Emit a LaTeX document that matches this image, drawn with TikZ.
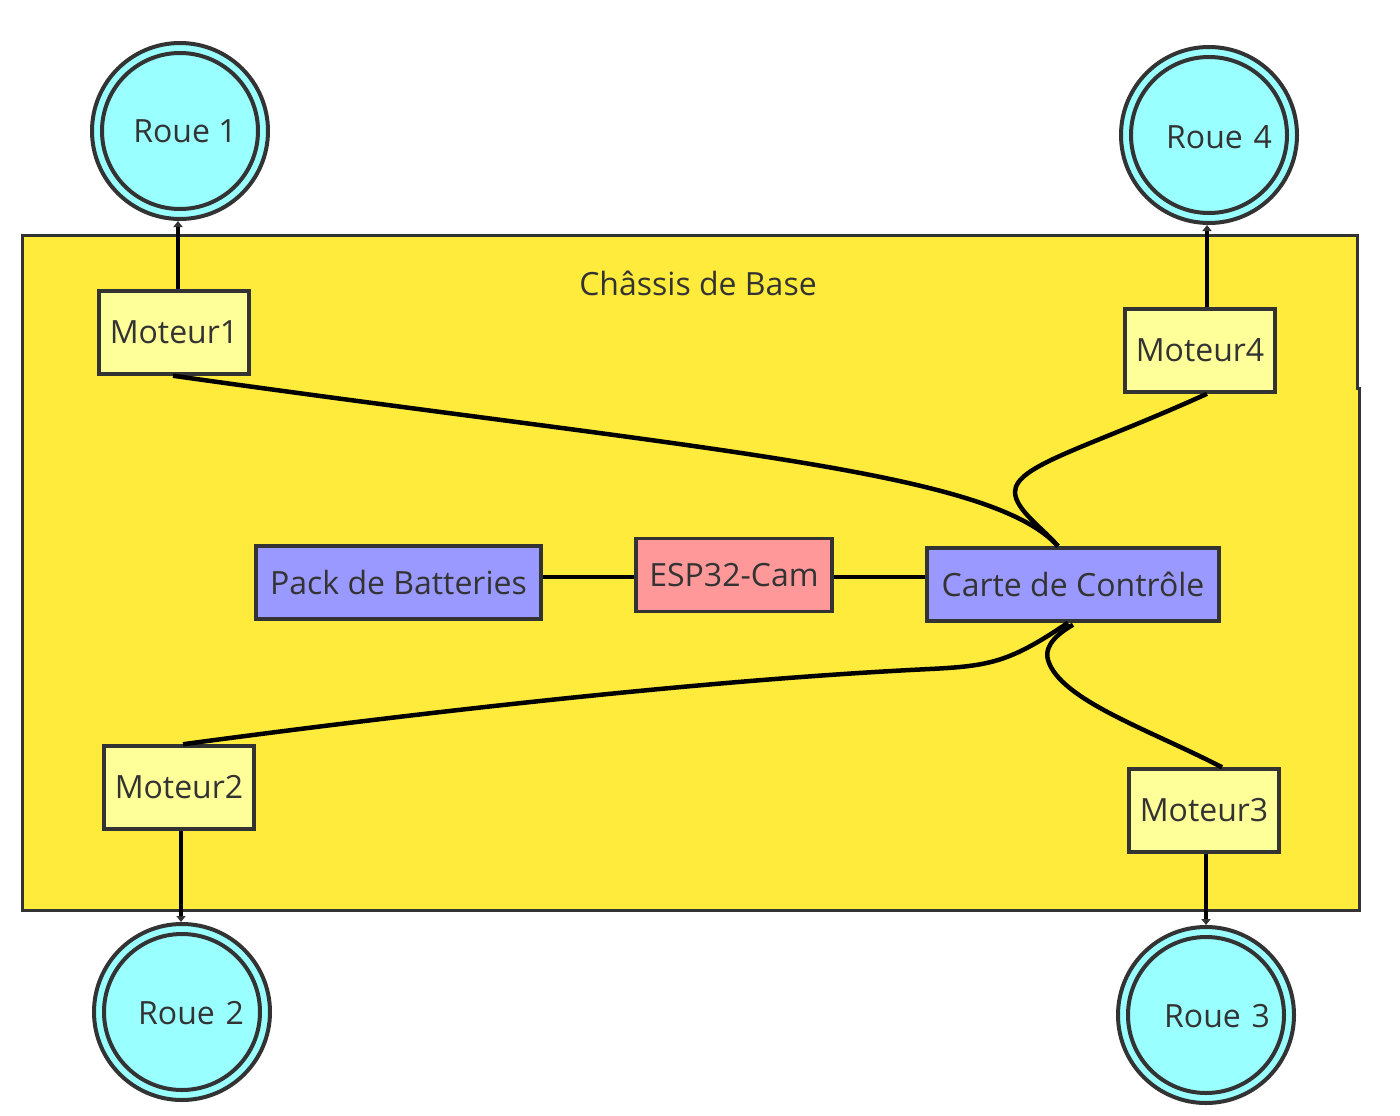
\documentclass[tikz,border=0pt]{standalone}
\usepackage{fontspec}
\setmainfont{Open Sans}
\usetikzlibrary{arrows.meta,calc}
\definecolor{ink}{HTML}{333333}
\definecolor{chassis}{HTML}{FFEB3B}
\definecolor{wheel}{HTML}{99FFFF}
\definecolor{motor}{HTML}{FFFF99}
\definecolor{board}{HTML}{9999FF}
\definecolor{cam}{HTML}{FF9999}
\begin{document}
\begin{tikzpicture}[x=1pt,y=-1pt,
  txt/.style={text=ink,font=\fontsize{32}{38}\selectfont},
  wheelnode/.style={circle,draw=ink,line width=4pt,fill=wheel,minimum size=176pt,inner sep=0pt},
  motorbox/.style={draw=ink,line width=3.5pt,fill=motor,minimum width=150pt,minimum height=83pt,inner sep=0pt,txt},
  partbox/.style={draw=ink,line width=3.5pt,minimum height=73pt,inner sep=0pt,txt},
  wire/.style={draw=black,line width=4.5pt},
  drive/.style={wire,-{Triangle[length=6pt,width=9pt,color=ink]}}
]
\useasboundingbox (0,0) rectangle (1400,1116);

% base chassis
\path[fill=chassis,draw=ink,line width=3pt]
  (22,235) -- (1357,235) -- (1357,388) -- (1359,388) -- (1359,910) -- (22,910) -- cycle;
\node[txt] (title) at (698,283) {Châssis de Base};

% wheels
\node[wheelnode] (r1) at (180,131) {};
\node[wheelnode] (r4) at (1209,135) {};
\node[wheelnode] (r2) at (182,1012) {};
\node[wheelnode] (r3) at (1206,1015) {};
\foreach \w in {r1,r2,r3,r4}
  \draw[ink,line width=4pt] (\w.center) circle (78);
\node[txt] (l1) at ($(r1.center)+(5,0)$) {Roue 1};
\node[txt] (l4) at ($(r4.center)+(10,2)$) {Roue\,\,4};
\node[txt] (l2) at ($(r2.center)+(9,1)$) {Roue\,\,2};
\node[txt] (l3) at ($(r3.center)+(11,1)$) {Roue\,\,3};

% motors
\node[motorbox] (m1) at (174,332.5) {Moteur1};
\node[motorbox] (m4) at (1200,350.5) {Moteur4};
\node[motorbox] (m2) at (179,787.5) {Moteur2};
\node[motorbox] (m3) at (1204,810.5) {Moteur3};

% electronics
\node[partbox,fill=board,minimum width=285pt] (bat) at (398.5,582.5) {Pack de Batteries};
\node[partbox,fill=cam,minimum width=196pt] (esp) at (734,575) {ESP32-Cam};
\node[partbox,fill=board,minimum width=292pt] (ctl) at (1073,584.5) {Carte de Contrôle};

% motor to wheel drives
\draw[drive] ($(m1.north)+(4,0)$) -- ($(r1.south)+(-2,0)$);
\draw[drive] ($(m4.north)+(7,0)$) -- ($(r4.south)+(-2,0)$);
\draw[drive] ($(m2.south)+(2,0)$) -- ($(r2.north)+(-1,0)$);
\draw[drive] ($(m3.south)+(2,0)$) -- (r3.north);

% power and data links
\coordinate (espin) at ($(esp.west)+(0,2)$);
\coordinate (espout) at ($(esp.east)+(0,2)$);
\draw[wire] (bat.east |- espin) -- (espin);
\draw[wire] (espout) -- (ctl.west |- espout);

% control board to motors
\coordinate (ctop) at ($(ctl.north)+(-15,0)$);
\coordinate (cbot1) at ($(ctl.south)+(-5,0)$);
\coordinate (cbot2) at ($(ctl.south)+(0,2)$);
\draw[wire] ($(m1.south)+(-1,0)$) .. controls (700,450) and (990,470) .. (ctop);
\draw[wire] ($(m4.south)+(7,0)$) .. controls (1090,447) and (1015,465) .. (1015,492)
  .. controls (1015,510) and (1045,530) .. (ctop);
\draw[wire] (cbot1) .. controls (1010,662) and (990,666) .. (930,669)
  .. controls (700,680) and (400,715) .. ($(m2.north)+(4,0)$);
\draw[wire] (cbot2) .. controls (1050,638) and (1045,650) .. (1048,660)
  .. controls (1060,700) and (1150,730) .. ($(m3.north)+(18,0)$);
\end{tikzpicture}
\end{document}
